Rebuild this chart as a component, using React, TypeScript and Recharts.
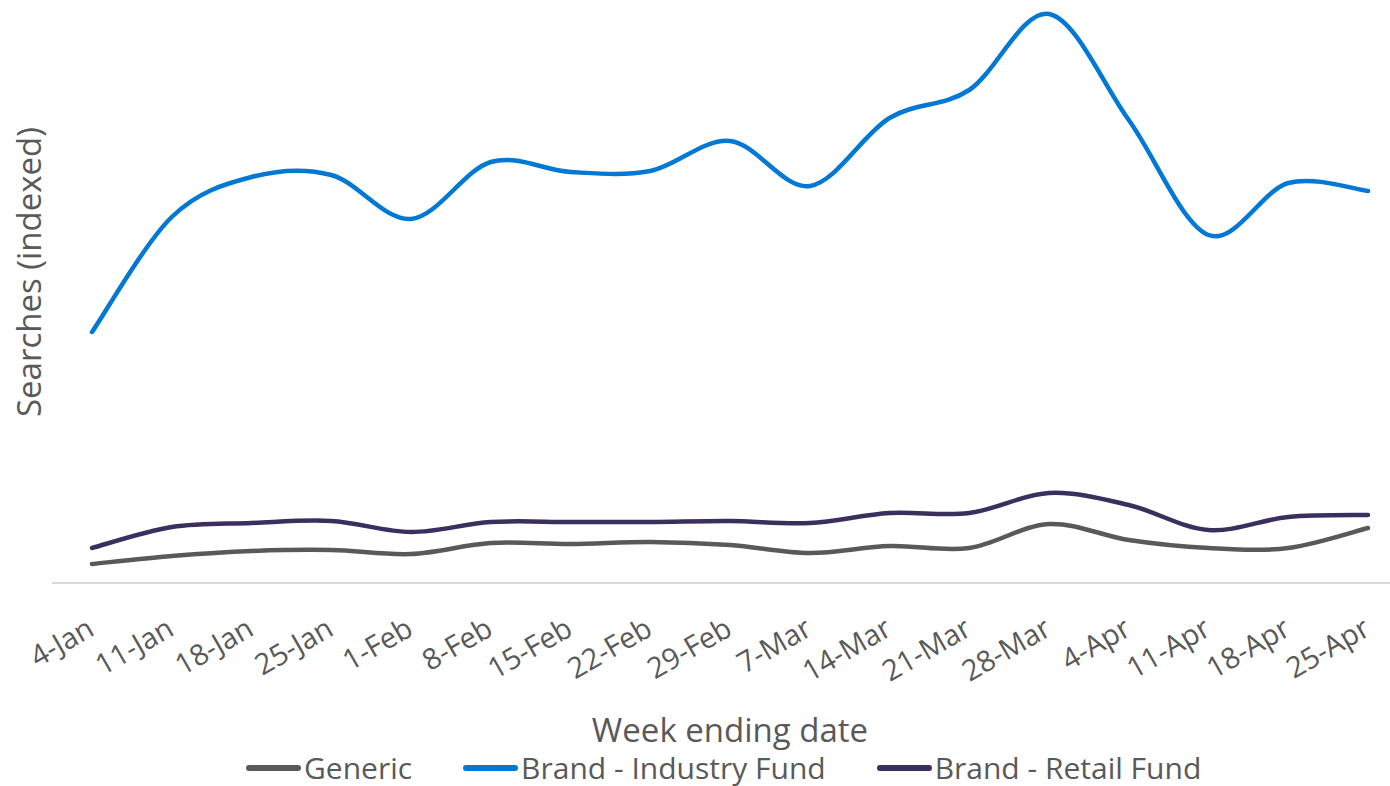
import React from 'react';
import { LineChart, Line, XAxis, YAxis, Legend } from 'recharts';

const weeks = [
  '4-Jan', '11-Jan', '18-Jan', '25-Jan', '1-Feb', '8-Feb', '15-Feb', '22-Feb', '29-Feb',
  '7-Mar', '14-Mar', '21-Mar', '28-Mar', '4-Apr', '11-Apr', '18-Apr', '25-Apr',
];
const generic = [19, 27, 32, 33, 29, 40, 39, 41, 38, 30, 37, 35, 59, 43, 35, 35, 55];
const industryFund = [251, 366, 406, 408, 364, 421, 411, 412, 442, 397, 465, 493, 569, 463, 348, 400, 392];
const retailFund = [35, 56, 60, 62, 51, 61, 61, 61, 62, 60, 70, 70, 90, 78, 53, 66, 68];

const series = [
  { key: 'generic', name: 'Generic', color: '#595959' },
  { key: 'industry', name: 'Brand - Industry Fund', color: '#0078d4' },
  { key: 'retail', name: 'Brand - Retail Fund', color: '#3b2f5e' },
];

const data = weeks.map((week, i) => ({
  week,
  generic: generic[i],
  industry: industryFund[i],
  retail: retailFund[i],
}));

const TEXT = '#595959';

// smoothing like Excel's "smoothed line" (catmull-rom style bezier)
const smoothCurve = (context: any) => {
  let pts: number[][] = [];
  return {
    areaStart() {},
    areaEnd() {},
    lineStart() {
      pts = [];
    },
    point(x: number, y: number) {
      pts.push([+x, +y]);
    },
    lineEnd() {
      if (!pts.length) return;
      context.moveTo(pts[0][0], pts[0][1]);
      for (let i = 0; i < pts.length - 1; i++) {
        const p0 = pts[i - 1] || pts[i];
        const p1 = pts[i];
        const p2 = pts[i + 1];
        const p3 = pts[i + 2] || p2;
        context.bezierCurveTo(
          p1[0] + (p2[0] - p0[0]) / 6,
          p1[1] + (p2[1] - p0[1]) / 6,
          p2[0] - (p3[0] - p1[0]) / 6,
          p2[1] - (p3[1] - p1[1]) / 6,
          p2[0],
          p2[1]
        );
      }
    },
  };
};

const DateTick = (props: any) => {
  const { x, y, payload } = props;
  const tx = x + 4;
  const ty = y + 51;
  return (
    <text x={tx} y={ty} textAnchor="end" fill={TEXT} fontSize={29} transform={`rotate(-30 ${tx} ${ty})`}>
      {payload.value}
    </text>
  );
};

const XTitle = (props: any) => {
  const { viewBox } = props;
  return (
    <text x={viewBox.x + viewBox.width / 2 + 9} y={742} textAnchor="middle" fill={TEXT} fontSize={33}>
      Week ending date
    </text>
  );
};

const YTitle = () => (
  <text x={28} y={272} textAnchor="middle" dominantBaseline="central" fill={TEXT} fontSize={33} transform="rotate(-90 28 272)">
    Searches (indexed)
  </text>
);

const LegendContent = () => (
  <div style={{ display: 'flex', alignItems: 'center', height: 36 }}>
    {series.map((s, i) => (
      <div key={s.key} style={{ display: 'flex', alignItems: 'center', marginRight: i < series.length - 1 ? 50 : 0 }}>
        <svg width={57} height={8} style={{ marginRight: 2 }}>
          <line x1={4} y1={4} x2={53} y2={4} stroke={s.color} strokeWidth={6} strokeLinecap="round" />
        </svg>
        <span style={{ fontSize: 30, color: TEXT, lineHeight: '36px' }}>{s.name}</span>
      </div>
    ))}
  </div>
);

export default function App() {
  return (
    <div style={{ position: 'absolute', left: 0, top: 0, fontFamily: '"Open Sans", sans-serif', background: '#fff' }}>
      <LineChart width={1390} height={786} data={data} margin={{ top: 0, right: 0, bottom: 0, left: 0 }}>
        <XAxis
          dataKey="week"
          height={203}
          interval={0}
          tickSize={0}
          tickMargin={0}
          tickLine={false}
          axisLine={{ stroke: '#d9d9d9', strokeWidth: 2 }}
          padding={{ left: 40, right: 22 }}
          tick={<DateTick />}
          label={{ content: <XTitle /> }}
        />
        <YAxis
          width={52}
          domain={[0, 583]}
          tick={false}
          tickLine={false}
          axisLine={false}
          label={{ content: <YTitle /> }}
        />
        <Legend
          verticalAlign="middle"
          align="center"
          content={<LegendContent />}
          wrapperStyle={{ top: 750, left: 245, width: 1050 }}
        />
        {series.map((s) => (
          <Line
            key={s.key}
            dataKey={s.key}
            name={s.name}
            type={smoothCurve as any}
            stroke={s.color}
            strokeWidth={4.5}
            strokeLinecap="round"
            dot={false}
            activeDot={false}
            isAnimationActive={false}
          />
        ))}
      </LineChart>
    </div>
  );
}
